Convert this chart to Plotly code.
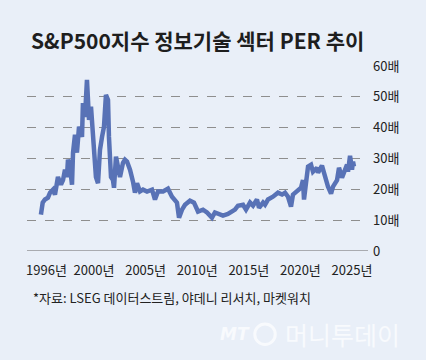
import plotly.graph_objects as go

# Data (fractional year, PER in times)
years = [1994.86, 1995.03, 1995.25, 1995.54, 1995.74, 1996.03, 1996.22, 1996.41, 1996.51, 1996.80,
         1997.00, 1997.19, 1997.38, 1997.48, 1997.67, 1997.87, 1997.97, 1998.16, 1998.35, 1998.55,
         1998.84, 1998.93, 1999.13, 1999.32, 1999.52, 1999.71, 1999.90, 2000.00, 2000.19, 2000.39,
         2000.58, 2000.78, 2000.97, 2001.16, 2001.36, 2001.45, 2001.65, 2001.84, 2001.94, 2002.13,
         2002.33, 2002.52, 2002.81, 2003.00, 2003.20, 2003.49, 2003.78, 2003.97, 2004.17, 2004.46,
         2004.75, 2005.14, 2005.62, 2005.91, 2006.20, 2006.69, 2007.17, 2007.56, 2008.04, 2008.24,
         2008.53, 2008.82, 2009.30, 2009.69, 2010.08, 2010.56, 2010.95, 2011.43, 2011.72, 2012.11,
         2012.50, 2012.98, 2013.66, 2013.95, 2014.44, 2014.73, 2015.12, 2015.41, 2015.79, 2015.99,
         2016.38, 2016.57, 2016.86, 2017.34, 2017.83, 2018.22, 2018.51, 2018.80, 2019.09, 2019.28,
         2019.67, 2020.06, 2020.25, 2020.35, 2020.54, 2020.74, 2021.03, 2021.22, 2021.61, 2021.71,
         2022.09, 2022.38, 2022.67, 2022.97, 2023.16, 2023.55, 2023.74, 2024.03, 2024.22, 2024.52,
         2024.61, 2024.81, 2025.00, 2025.10, 2025.19]
per = [11.8, 15.7, 16.7, 17.3, 18.9, 19.9, 18.3, 22.0, 24.0, 21.5,
       23.0, 26.4, 24.0, 29.6, 27.4, 21.5, 31.9, 37.7, 31.9, 40.3,
       37.0, 48.0, 43.5, 55.5, 42.5, 46.8, 38.3, 31.9, 24.0, 22.0,
       32.8, 37.0, 40.3, 50.6, 49.0, 37.0, 24.0, 23.0, 20.5, 30.6,
       27.4, 24.0, 28.6, 29.6, 29.0, 26.4, 22.5, 18.9, 22.0, 19.3,
       19.9, 19.3, 19.9, 16.7, 19.3, 19.3, 20.2, 17.6, 15.7, 10.8,
       13.4, 15.0, 16.3, 15.7, 12.8, 13.4, 12.5, 10.8, 12.5, 11.8,
       11.5, 12.0, 13.4, 14.7, 15.0, 13.4, 15.7, 14.7, 16.7, 14.0,
       15.7, 15.0, 16.7, 17.6, 18.9, 18.3, 18.9, 17.6, 14.4, 18.3,
       19.3, 20.5, 23.0, 16.7, 22.0, 27.4, 28.0, 25.7, 27.0, 25.4,
       27.7, 24.0, 20.9, 18.6, 20.9, 23.0, 27.0, 23.8, 25.7, 28.0,
       25.7, 30.9, 26.4, 29.0, 27.4]

x_tickvals = [1995.4, 2000, 2005, 2010, 2015, 2020, 2025]
x_ticktext = ["1996년", "2000년", "2005년", "2010년", "2015년", "2020년", "2025년"]
y_tickvals = [0, 10, 20, 30, 40, 50, 60]
y_ticktext = ["0", "10배", "20배", "30배", "40배", "50배", "60배"]

title = "S&P500지수 정보기술 섹터 PER 추이"
source = "*자료: LSEG 데이터스트림, 야데니 리서치, 마켓워치"

BG = "#E9EFF8"
FONT = "Noto Sans CJK KR"
WM = "#F8FAFD"

fig = go.Figure()
fig.add_trace(go.Scatter(
    x=years, y=per, mode="lines",
    line=dict(color="#5872B6", width=4.5),
    hoverinfo="skip", showlegend=False,
))

fig.update_layout(
    width=426, height=360,
    paper_bgcolor=BG, plot_bgcolor=BG,
    margin=dict(l=27, r=58, t=66, b=108.5),
    font=dict(family=FONT, color="#222222", size=13),
    xaxis=dict(
        range=[1993.51, 2026.55], tickvals=x_tickvals, ticktext=x_ticktext,
        showgrid=False, zeroline=False, showline=False,
        ticks="", ticklabelstandoff=10,
        tickfont=dict(family=FONT, size=13, color="#222222"),
    ),
    yaxis=dict(
        range=[0, 60], tickvals=y_tickvals, ticktext=y_ticktext,
        side="right", showgrid=True, gridcolor="#8E8E8E", griddash="dash",
        gridwidth=1, zeroline=False, showline=False, ticks="",
        ticklabelstandoff=4,
        tickfont=dict(family=FONT, size=13, color="#222222"),
    ),
    shapes=[
        dict(type="line", xref="paper", yref="y", x0=0, x1=1, y0=0, y1=0,
             line=dict(color="#A9ABB0", width=2)),
        dict(type="circle", xref="paper", yref="paper",
             x0=0.668, x1=0.728, y0=-0.505, y1=-0.395,
             line=dict(color=WM, width=3)),
    ],
    annotations=[
        dict(text="<b>" + title + "</b>", xref="paper", yref="paper",
             x=0.005, y=1.0, xanchor="left", yanchor="middle", yshift=26,
             showarrow=False, font=dict(family=FONT, size=21, color="#1E1E1E")),
        dict(text=source, xref="paper", yref="paper",
             x=0.012, y=0, xanchor="left", yanchor="middle", yshift=-46,
             showarrow=False, font=dict(family=FONT, size=13, color="#222222")),
        dict(text="<i><b>MT</b></i>", xref="paper", yref="paper",
             x=0.56, y=0, xanchor="left", yanchor="middle", yshift=-83,
             showarrow=False, font=dict(family="DejaVu Sans", size=17, color=WM)),
        dict(text="머니투데이", xref="paper", yref="paper",
             x=0.752, y=0, xanchor="left", yanchor="middle", yshift=-83,
             showarrow=False, font=dict(family=FONT, size=25, color=WM)),
    ],
)

fig.write_html("out.html", config={"displayModeBar": False},
               post_script="document.body.style.margin='0';")
